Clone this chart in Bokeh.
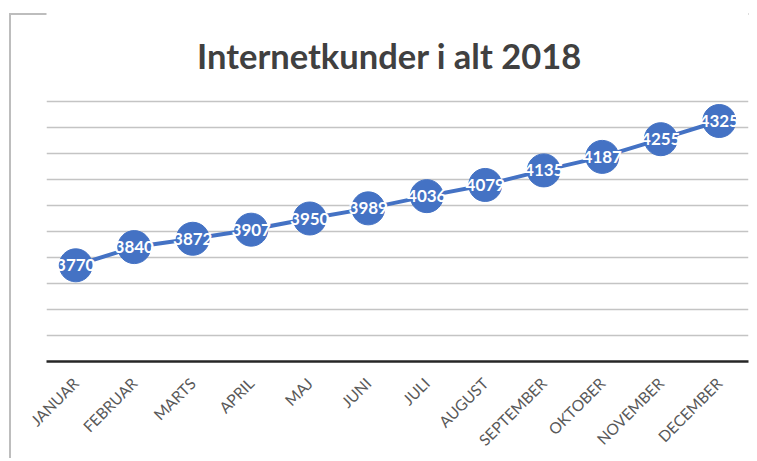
from math import pi
from bokeh.plotting import figure
from bokeh.models import FactorRange, Range1d, ColumnDataSource, Label, FixedTicker
from bokeh.core.properties import value
from bokeh.embed import file_html
from bokeh.resources import INLINE

months = ["JANUAR", "FEBRUAR", "MARTS", "APRIL", "MAJ", "JUNI", "JULI",
          "AUGUST", "SEPTEMBER", "OKTOBER", "NOVEMBER", "DECEMBER"]
customers = [3770, 3840, 3872, 3907, 3950, 3989, 4036, 4079, 4135, 4187, 4255, 4325]
y_min, y_max, y_step = 3400, 4400, 100
title_text = "Internetkunder i alt 2018"

src = ColumnDataSource(dict(month=months, value=customers, label=[str(v) for v in customers]))

# frame extends to the top of the canvas so the title can sit inside it;
# 100 units = 26 px, frame height 361 px
FRAME_H = 361
y_top = y_min + FRAME_H / 26.0 * y_step

p = figure(x_range=FactorRange(*months), y_range=Range1d(y_min, y_top),
           frame_width=702, frame_height=FRAME_H, output_backend="svg", toolbar_location=None,
           min_border_left=46, min_border_right=1, min_border_top=0, min_border_bottom=92)
p.outline_line_color = None
p.background_fill_color = "white"
p.border_fill_alpha = 0
p.styles = {
    "background-color": "white",
    "background-image": "linear-gradient(#bdbdbd,#bdbdbd), linear-gradient(#bdbdbd,#bdbdbd)",
    "background-size": "2px 100%, 100% 2px",
    "background-position": "9px 13px, 9px 13px",
    "background-repeat": "no-repeat",
}

p.yaxis.visible = False
p.xgrid.visible = False
p.ygrid.ticker = FixedTicker(ticks=list(range(y_min, y_max + 1, y_step)))
p.ygrid.grid_line_color = "#c4c4c4"
p.ygrid.grid_line_width = 1.5

ax = p.xaxis[0]
ax.axis_line_color = "#262626"
ax.axis_line_width = 2.5
ax.major_tick_line_color = None
ax.minor_tick_line_color = None
ax.major_label_orientation = pi / 4
ax.major_label_text_font = "Lato"
ax.major_label_text_font_size = "15.5px"
ax.major_label_text_color = "#595959"
ax.major_label_standoff = 13

blue = "#4472C4"
p.line(x="month", y="value", source=src, line_width=4, line_color=blue)
p.scatter(x="month", y="value", source=src, size=33, fill_color=blue, line_color=blue)
p.text(x="month", y="value", text="label", source=src, text_align="center",
       text_baseline="middle", text_color="white", text_font=value("Lato"),
       text_font_style="bold", text_font_size="17px")

p.add_layout(Label(x=343, y=306, x_units="screen", y_units="screen", text=title_text,
                   text_align="center", text_baseline="alphabetic", text_font="Lato",
                   text_font_style="bold", text_font_size="34.5px", text_color="#404040"))

open("out.html", "w").write(file_html(p, INLINE))
